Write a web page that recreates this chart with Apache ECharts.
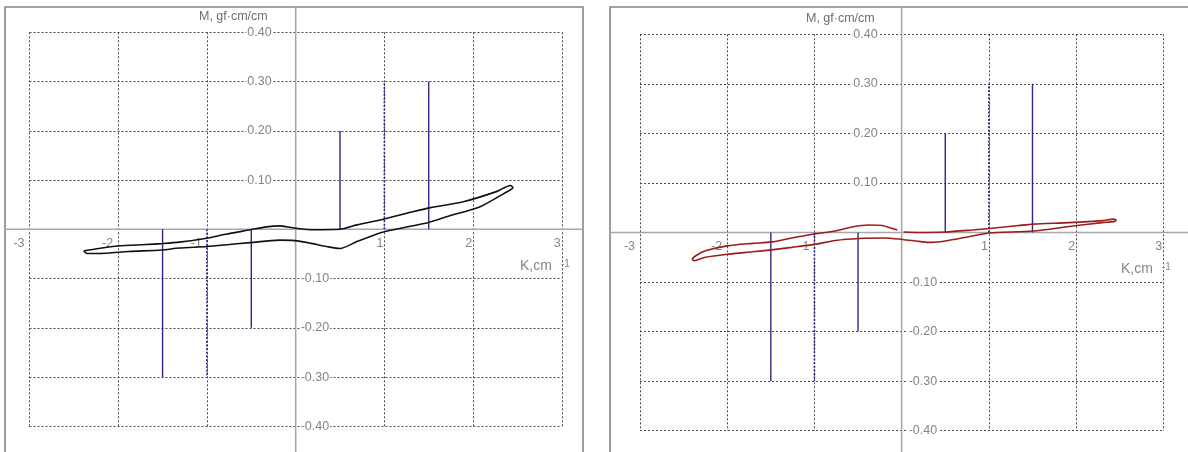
<!DOCTYPE html>
<html>
<head>
<meta charset="utf-8">
<script src="https://cdn.jsdelivr.net/npm/echarts@6/dist/echarts.min.js"></script>
<style>
html,body{margin:0;padding:0;background:#fff;}
#chart{width:1188px;height:452px;}
</style>
</head>
<body>
<div id="chart"></div>
<script>
// ---- data ----
const xRange = [-3, 3];
const xStep = 1;
const yRange = [-0.4, 0.4];
const yStep = 0.1;
const yLabel = 'M, gf·cm/cm';
const xLabel = 'K,cm';
const xLabelSup = '-1';

// vertical reference stems (same for both panels)
const stemX = [-1.5, -0.5, 0.5, 1.5];
const stemY = [-0.3, -0.2, 0.2, 0.3];
const dashX = [-1, 1];
const dashY = [-0.3, 0.3];

// left panel loop (black)
const leftLoop = [
  [-2.39,-0.044],[-2.22,-0.039],[-2.0,-0.034],[-1.69,-0.031],[-1.51,-0.029],[-1.31,-0.026],
  [-1.0,-0.018],[-0.79,-0.010],[-0.51,-0.001],[-0.33,0.005],[-0.18,0.007],[-0.03,0.003],
  [0.20,-0.001],[0.50,0.0],[0.69,0.009],[1.0,0.021],[1.33,0.036],[1.52,0.044],[1.89,0.056],
  [2.27,0.077],[2.42,0.089],[2.45,0.085],[2.35,0.073],[2.08,0.046],[1.71,0.026],[1.50,0.014],
  [1.0,-0.005],[0.69,-0.025],[0.50,-0.039],[0.35,-0.035],[0.16,-0.028],[-0.01,-0.023],
  [-0.18,-0.022],[-0.51,-0.027],[-0.75,-0.031],[-1.0,-0.035],[-1.31,-0.038],[-1.51,-0.042],
  [-1.88,-0.045],[-2.22,-0.049],[-2.35,-0.049],[-2.39,-0.044]
];

// right panel loop (dark red), open at the small gap near K = 0
const rightLoop = [
  [0.024,0.001],[0.20,0.0],[0.50,0.001],[0.81,0.005],[1.01,0.008],[1.34,0.014],[1.51,0.017],
  [1.92,0.020],[2.30,0.024],[2.43,0.027],[2.46,0.025],[2.43,0.022],[2.30,0.020],[1.92,0.012],
  [1.51,0.003],[1.01,-0.001],[0.81,-0.007],[0.50,-0.017],[0.31,-0.020],[0.16,-0.017],
  [0.01,-0.014],[-0.19,-0.011],[-0.49,-0.012],[-0.76,-0.016],[-1.0,-0.024],[-1.26,-0.030],
  [-1.49,-0.035],[-1.71,-0.039],[-2.0,-0.044],[-2.25,-0.050],[-2.38,-0.057],[-2.40,-0.054],
  [-2.36,-0.047],[-2.25,-0.037],[-2.0,-0.027],[-1.71,-0.022],[-1.49,-0.019],[-1.26,-0.011],
  [-1.0,-0.003],[-0.76,0.003],[-0.57,0.011],[-0.38,0.015],[-0.22,0.014],[-0.11,0.008],[-0.05,0.005]
];

// ---- styles ----
const FONT = '"Liberation Sans", Arial, sans-serif';
const LABEL_COLOR = '#858585';
const GRID_COLOR = '#4a4a4a';
const STEM_COLOR = '#2a2a86';
const AXIS_COLOR = '#a8a8a8';

const grids = [
  {left: 29.5, top: 32.3, width: 532.3, height: 394, outerBoundsMode: 'none', containLabel: false},
  {left: 640, top: 34.3, width: 523.3, height: 396.4, outerBoundsMode: 'none', containLabel: false}
];
const loops = [leftLoop, rightLoop];
const loopColors = ['#111', '#9a1c1c'];

// fraction of the axis span lying below / left of zero
const xZeroFrac = (0 - xRange[0]) / (xRange[1] - xRange[0]);
const yZeroFrac = (0 - yRange[0]) / (yRange[1] - yRange[0]);

const xAxes = [], yAxes = [], series = [];
grids.forEach((g, gi) => {
  xAxes.push({
    gridIndex: gi, type: 'value', min: xRange[0], max: xRange[1], interval: xStep,
    position: 'bottom', offset: -g.height * yZeroFrac,
    axisLine: {show: false, onZero: false},
    axisTick: {show: false},
    splitLine: {show: true, lineStyle: {color: GRID_COLOR, type: [2, 2], width: 1}},
    axisLabel: {
      margin: 8, align: 'right', fontFamily: FONT, fontSize: 12.5, color: LABEL_COLOR,
      formatter: v => v === 0 ? '' : (v < 0 ? '{n|' + v + '}' : '{p|' + v + '}'),
      rich: {
        n: {padding: [0, 5, 0, 0], fontFamily: FONT, fontSize: 12.5, color: LABEL_COLOR},
        p: {padding: [0, 1, 0, 0], fontFamily: FONT, fontSize: 12.5, color: LABEL_COLOR}
      }
    }
  });
  // positive labels on the left of the vertical axis
  yAxes.push({
    gridIndex: gi, type: 'value', min: yRange[0], max: yRange[1], interval: yStep,
    position: 'left', offset: -g.width * xZeroFrac,
    axisLine: {show: false, onZero: false},
    axisTick: {show: false},
    splitLine: {show: true, lineStyle: {color: GRID_COLOR, type: [2, 2], width: 1}},
    axisLabel: {
      margin: 23, fontFamily: FONT, fontSize: 12.5, color: LABEL_COLOR,
      backgroundColor: '#fff', padding: [0, 1],
      formatter: v => v > 0.001 ? v.toFixed(2) : ''
    }
  });
  // negative labels on the right of the vertical axis
  yAxes.push({
    gridIndex: gi, type: 'value', min: yRange[0], max: yRange[1], interval: yStep,
    position: 'right', offset: -g.width * (1 - xZeroFrac),
    axisLine: {show: false, onZero: false},
    axisTick: {show: false},
    splitLine: {show: false},
    axisLabel: {
      margin: gi === 0 ? 4 : 6, fontFamily: FONT, fontSize: 12.5, color: LABEL_COLOR,
      backgroundColor: '#fff', padding: [0, 1],
      formatter: v => v < -0.001 ? v.toFixed(2) : ''
    }
  });

  stemX.forEach((sx, i) => {
    series.push({
      type: 'line', xAxisIndex: gi, yAxisIndex: gi * 2, z: 3,
      data: [[sx, 0], [sx, stemY[i]]], showSymbol: false, silent: true,
      lineStyle: {color: STEM_COLOR, width: 1.4}
    });
  });
  dashX.forEach((dx, i) => {
    series.push({
      type: 'line', xAxisIndex: gi, yAxisIndex: gi * 2, z: 3,
      data: [[dx, 0], [dx, dashY[i]]], showSymbol: false, silent: true,
      lineStyle: {color: STEM_COLOR, width: 1.6, type: [2, 1.6]}
    });
  });
  series.push({
    type: 'line', xAxisIndex: gi, yAxisIndex: gi * 2, z: 4,
    data: loops[gi], showSymbol: false, smooth: 0.25, silent: true,
    lineStyle: {color: loopColors[gi], width: 1.6}
  });
});

const titleStyle = {fontFamily: FONT, fontSize: 12.5, color: '#6f6f6f', fontWeight: 'normal'};
const kRich = {
  a: {fontFamily: FONT, fontSize: 14, color: '#858585', fontWeight: 'normal'},
  s: {fontFamily: FONT, fontSize: 10, color: '#858585', fontWeight: 'normal', padding: [0, 0, 4, 9]}
};
const chart = echarts.init(document.getElementById('chart'), null, {renderer: 'canvas'});
chart.setOption({
  animation: false,
  backgroundColor: '#fff',
  grid: grids,
  xAxis: xAxes,
  yAxis: yAxes,
  title: [
    {text: yLabel, left: 199, top: 10, padding: 0, textStyle: titleStyle},
    {text: '{a|' + xLabel + '}{s|' + xLabelSup + '}', left: 520, top: 259, padding: 0,
      textStyle: {fontWeight: 'normal', rich: kRich}},
    {text: yLabel, left: 806, top: 12, padding: 0, textStyle: titleStyle},
    {text: '{a|' + xLabel + '}{s|' + xLabelSup + '}', left: 1121, top: 262, padding: 0,
      textStyle: {fontWeight: 'normal', rich: kRich}}
  ],
  series: series
});

// panel frames and full-length zero axes
const panels = [
  {x: 5, y: 7, w: 578, h: 470},
  {x: 610, y: 7, w: 600, h: 470}
];
const gfx = [];
panels.forEach((p, gi) => {
  const o = chart.convertToPixel({gridIndex: gi}, [0, 0]);
  gfx.push({type: 'rect', z: 1, silent: true,
    shape: {x: p.x, y: p.y, width: p.w, height: p.h},
    style: {fill: null, stroke: '#858585', lineWidth: 1.6}});
  gfx.push({type: 'line', z: 1, silent: true,
    shape: {x1: p.x, y1: o[1], x2: p.x + p.w, y2: o[1]},
    style: {stroke: AXIS_COLOR, lineWidth: 1.6}});
  gfx.push({type: 'line', z: 1, silent: true,
    shape: {x1: o[0], y1: p.y, x2: o[0], y2: p.y + p.h},
    style: {stroke: AXIS_COLOR, lineWidth: 1.6}});
});
chart.setOption({graphic: gfx});
</script>
</body>
</html>
